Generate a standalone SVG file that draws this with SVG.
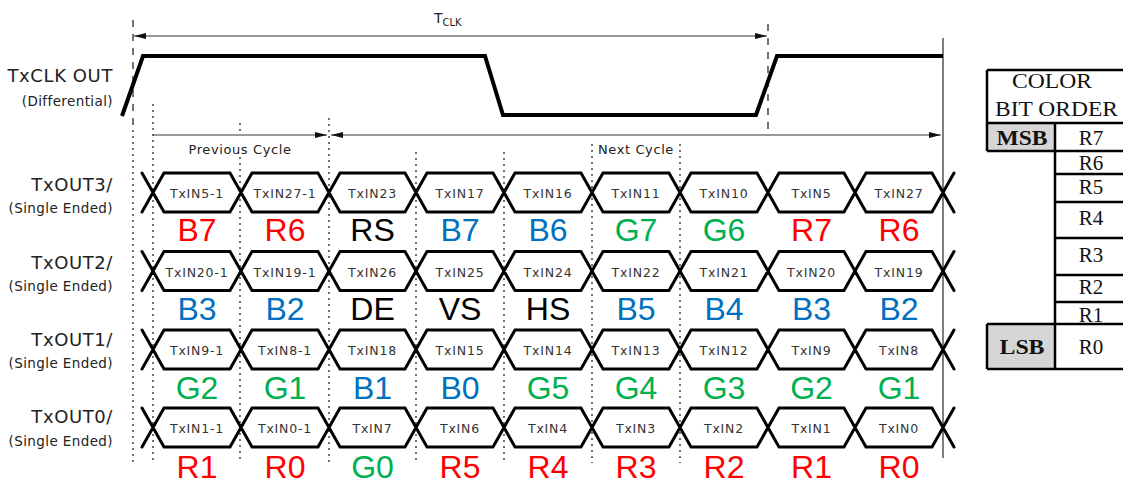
<svg xmlns="http://www.w3.org/2000/svg" width="1123" height="484" viewBox="0 0 1123 484">
<style>
.lbl{font-family:"DejaVu Sans",sans-serif;fill:#222;}
.main{font-size:18px;letter-spacing:0.6px;text-anchor:end;}
.sub{font-size:13.5px;letter-spacing:0.4px;text-anchor:end;}
.cell{font-family:"DejaVu Sans",sans-serif;font-size:12.5px;letter-spacing:0.8px;fill:#333;text-anchor:middle;}
.bit{font-family:"Liberation Sans",Arial,sans-serif;font-size:32px;text-anchor:middle;}
.r{fill:#ff0000;}.b{fill:#0070c0;}.g{fill:#00b050;}.k{fill:#000;}
.dot{stroke:#444;stroke-width:1.5;stroke-dasharray:2 4;fill:none;}
.dash{stroke:#444;stroke-width:1.5;stroke-dasharray:7 7;fill:none;}
.arr{stroke:#333;stroke-width:1.2;fill:none;}
.row{stroke:#000;stroke-width:3;fill:none;stroke-linecap:round;}
.tbl{stroke:#000;stroke-width:2.5;fill:none;}
.tt{font-family:"Liberation Serif","Times New Roman",serif;font-size:21px;fill:#111;text-anchor:middle;}
.tb{font-weight:bold;}
</style>
<defs>
<marker id="ah" viewBox="0 0 12 6" refX="12" refY="3" markerWidth="12" markerHeight="6" markerUnits="userSpaceOnUse" orient="auto-start-reverse"><path d="M0,0L12,3L0,6z" fill="#111"/></marker>
<path id="rowshape" class="row" d="M164,0H230M252,0H318M340,0H405M427,0H493M515,0H581M603,0H669M691,0H757M779,0H844M866,0H932M164,39H230M252,39H318M340,39H405M427,39H493M515,39H581M603,39H669M691,39H757M779,39H844M866,39H932M142,0L164,39M142,39L164,0M230,0L252,39M230,39L252,0M318,0L340,39M318,39L340,0M405,0L427,39M405,39L427,0M493,0L515,39M493,39L515,0M581,0L603,39M581,39L603,0M669,0L691,39M669,39L691,0M757,0L779,39M757,39L779,0M844,0L866,39M844,39L866,0M932,0L954,39M932,39L954,0"/>
</defs>
<rect width="1123" height="484" fill="#fff"/>

<g id="guides">
<path class="dash" d="M133,20V130M768,24V135"/>
<path class="dot" d="M133,130V463M153,104V463M240,123V135M240,157V463M329,118V463M416,152V463M504,152V463M592,144V463M680,144V463"/>
<path d="M943,38V458" stroke="#555" stroke-width="1.5"/>
</g>

<g id="connectors">
<line class="arr" x1="134" y1="36" x2="767" y2="36" marker-start="url(#ah)" marker-end="url(#ah)"/>
<line class="arr" x1="153" y1="135" x2="327" y2="135" marker-end="url(#ah)"/>
<line class="arr" x1="331" y1="135" x2="941" y2="135" marker-start="url(#ah)" marker-end="url(#ah)"/>
</g>

<g id="timing-labels">
<text class="lbl" x="434" y="23" font-size="14">T<tspan font-size="10" dy="3">CLK</tspan></text>
<text class="lbl" x="240" y="154" font-size="13" letter-spacing="0.6" text-anchor="middle">Previous Cycle</text>
<text class="lbl" x="636" y="154" font-size="13" letter-spacing="0.6" text-anchor="middle">Next Cycle</text>
</g>

<g id="txclk">
<text class="lbl main" x="113" y="82">TxCLK OUT</text>
<text class="lbl sub" x="113" y="106">(Differential)</text>
<polyline points="122,116 143,56 485,56 503,115 756,115 777,56 943,56" fill="none" stroke="#000" stroke-width="4" stroke-linejoin="miter"/>
</g>

<g id="txout3">
<text class="lbl main" x="113" y="191">TxOUT3/</text>
<text class="lbl sub" x="113" y="213">(Single Ended)</text>
<use href="#rowshape" transform="translate(0,173)"/>
<g transform="translate(0,198)">
<text class="cell" x="197">TxIN5-1</text><text class="cell" x="285">TxIN27-1</text><text class="cell" x="372.5">TxIN23</text><text class="cell" x="460">TxIN17</text><text class="cell" x="548">TxIN16</text><text class="cell" x="636">TxIN11</text><text class="cell" x="724">TxIN10</text><text class="cell" x="811.5">TxIN5</text><text class="cell" x="899">TxIN27</text>
</g>
<g transform="translate(0,241)">
<text class="bit r" x="197">B7</text><text class="bit r" x="285">R6</text><text class="bit k" x="372.5">RS</text><text class="bit b" x="460">B7</text><text class="bit b" x="548">B6</text><text class="bit g" x="636">G7</text><text class="bit g" x="724">G6</text><text class="bit r" x="811.5">R7</text><text class="bit r" x="899">R6</text>
</g>
</g>

<g id="txout2">
<text class="lbl main" x="113" y="268.5">TxOUT2/</text>
<text class="lbl sub" x="113" y="290.5">(Single Ended)</text>
<use href="#rowshape" transform="translate(0,251.5)"/>
<g transform="translate(0,276.5)">
<text class="cell" x="197">TxIN20-1</text><text class="cell" x="285">TxIN19-1</text><text class="cell" x="372.5">TxIN26</text><text class="cell" x="460">TxIN25</text><text class="cell" x="548">TxIN24</text><text class="cell" x="636">TxIN22</text><text class="cell" x="724">TxIN21</text><text class="cell" x="811.5">TxIN20</text><text class="cell" x="899">TxIN19</text>
</g>
<g transform="translate(0,320)">
<text class="bit b" x="197">B3</text><text class="bit b" x="285">B2</text><text class="bit k" x="372.5">DE</text><text class="bit k" x="460">VS</text><text class="bit k" x="548">HS</text><text class="bit b" x="636">B5</text><text class="bit b" x="724">B4</text><text class="bit b" x="811.5">B3</text><text class="bit b" x="899">B2</text>
</g>
</g>

<g id="txout1">
<text class="lbl main" x="113" y="346">TxOUT1/</text>
<text class="lbl sub" x="113" y="368">(Single Ended)</text>
<use href="#rowshape" transform="translate(0,330)"/>
<g transform="translate(0,355)">
<text class="cell" x="197">TxIN9-1</text><text class="cell" x="285">TxIN8-1</text><text class="cell" x="372.5">TxIN18</text><text class="cell" x="460">TxIN15</text><text class="cell" x="548">TxIN14</text><text class="cell" x="636">TxIN13</text><text class="cell" x="724">TxIN12</text><text class="cell" x="811.5">TxIN9</text><text class="cell" x="899">TxIN8</text>
</g>
<g transform="translate(0,399)">
<text class="bit g" x="197">G2</text><text class="bit g" x="285">G1</text><text class="bit b" x="372.5">B1</text><text class="bit b" x="460">B0</text><text class="bit g" x="548">G5</text><text class="bit g" x="636">G4</text><text class="bit g" x="724">G3</text><text class="bit g" x="811.5">G2</text><text class="bit g" x="899">G1</text>
</g>
</g>

<g id="txout0">
<text class="lbl main" x="113" y="423">TxOUT0/</text>
<text class="lbl sub" x="113" y="446">(Single Ended)</text>
<use href="#rowshape" transform="translate(0,408)"/>
<g transform="translate(0,433)">
<text class="cell" x="197">TxIN1-1</text><text class="cell" x="285">TxIN0-1</text><text class="cell" x="372.5">TxIN7</text><text class="cell" x="460">TxIN6</text><text class="cell" x="548">TxIN4</text><text class="cell" x="636">TxIN3</text><text class="cell" x="724">TxIN2</text><text class="cell" x="811.5">TxIN1</text><text class="cell" x="899">TxIN0</text>
</g>
<g transform="translate(0,478)">
<text class="bit r" x="197">R1</text><text class="bit r" x="285">R0</text><text class="bit g" x="372.5">G0</text><text class="bit r" x="460">R5</text><text class="bit r" x="548">R4</text><text class="bit r" x="636">R3</text><text class="bit r" x="724">R2</text><text class="bit r" x="811.5">R1</text><text class="bit r" x="899">R0</text>
</g>
</g>

<g id="color-bit-order">
<rect x="987" y="123" width="68" height="28" fill="#d6d6d6"/>
<rect x="987" y="324" width="68" height="45" fill="#d6d6d6"/>
<path class="tbl" stroke-width="3" d="M987,70H1130M987,70V151M987,123H1130"/>
<path class="tbl" d="M987,151H1055M1055,123V369M1055,151H1130M1055,174H1130M1055,202H1130M1055,238H1130M1055,275H1130M1055,302H1130M987,324H1130M987,324V369M987,369H1130"/>
<text class="tt" x="1052" y="88" font-size="22" textLength="80" lengthAdjust="spacingAndGlyphs">COLOR</text>
<text class="tt" x="1056.5" y="116" font-size="22" textLength="123" lengthAdjust="spacingAndGlyphs">BIT ORDER</text>
<text class="tt tb" x="1022" y="145" textLength="51" lengthAdjust="spacingAndGlyphs">MSB</text>
<text class="tt tb" x="1022" y="354" textLength="45" lengthAdjust="spacingAndGlyphs">LSB</text>
<text class="tt" x="1091" y="145">R7</text>
<text class="tt" x="1091" y="170" font-size="19">R6</text>
<text class="tt" x="1091" y="194" font-size="19">R5</text>
<text class="tt" x="1091" y="225">R4</text>
<text class="tt" x="1091" y="262">R3</text>
<text class="tt" x="1091" y="294">R2</text>
<text class="tt" x="1091" y="322">R1</text>
<text class="tt" x="1091" y="354">R0</text>
</g>
</svg>
